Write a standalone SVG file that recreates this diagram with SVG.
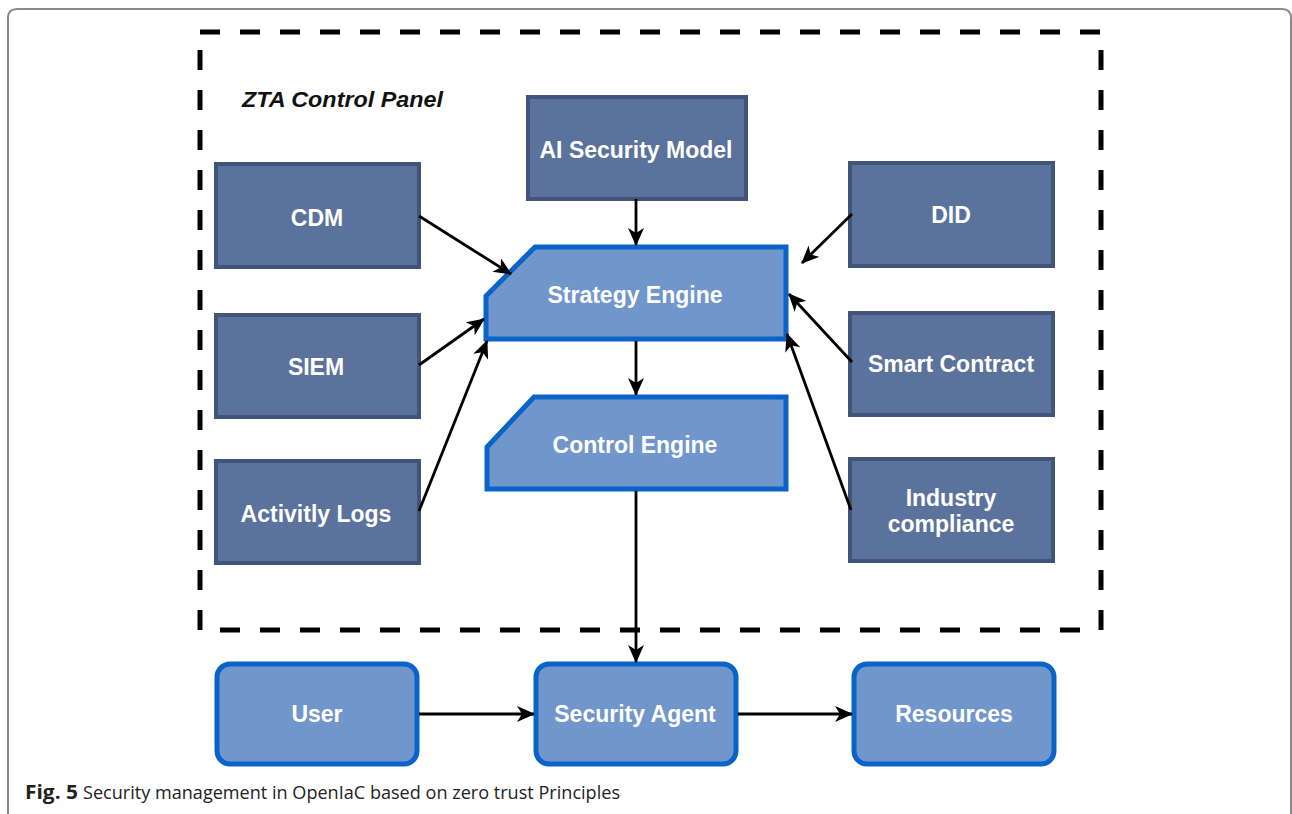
<svg xmlns="http://www.w3.org/2000/svg" width="1292" height="814" viewBox="0 0 1292 814">
<style>
.dark{fill:#5a729c;stroke:#41557b;stroke-width:4}
.light{fill:#7196cc;stroke:#0a64c8;stroke-width:5}
.lbl{font-family:"Liberation Sans",Arial,sans-serif;font-weight:bold;font-size:23px;fill:#ffffff;text-anchor:middle}
.edge{fill:none;stroke:#000;stroke-width:2.8}
.dash{fill:none;stroke:#000;stroke-width:5;stroke-dasharray:20 20}
</style>
<defs>
<marker id="arr" viewBox="0 0 18 16" refX="17" refY="8" markerWidth="18" markerHeight="16" markerUnits="userSpaceOnUse" orient="auto">
<path d="M0,0 L18,8 L0,16 L5,8 Z" fill="#000"/>
</marker>
</defs>
<rect width="1292" height="814" fill="#ffffff"/>
<path d="M8,814 V18 Q8,9 17,9 H1282 Q1291,9 1291,18 V814" fill="none" stroke="#8a8a8a" stroke-width="2"/>
<g id="panel">
<line class="dash" x1="200" y1="32" x2="1102" y2="32"/>
<line class="dash" x1="200" y1="50" x2="200" y2="632"/>
<line class="dash" x1="1101" y1="50" x2="1101" y2="632"/>
<line class="dash" x1="220" y1="630" x2="1098" y2="630"/>
<text x="242" y="107" font-family="Liberation Sans,Arial,sans-serif" font-weight="bold" font-style="italic" font-size="22" fill="#111" textLength="201" lengthAdjust="spacingAndGlyphs">ZTA Control Panel</text>
</g>
<g id="ai-security-model">
<rect class="dark" x="528" y="97" width="218" height="102"/>
<text class="lbl" x="636" y="158">AI Security Model</text>
</g>
<g id="cdm">
<rect class="dark" x="216" y="164" width="203" height="103"/>
<text class="lbl" x="317" y="226">CDM</text>
</g>
<g id="siem">
<rect class="dark" x="216" y="315" width="203" height="102"/>
<text class="lbl" x="316" y="375">SIEM</text>
</g>
<g id="activity-logs">
<rect class="dark" x="216" y="461" width="203" height="102"/>
<text class="lbl" x="316" y="522">Activitly Logs</text>
</g>
<g id="did">
<rect class="dark" x="850" y="163" width="203" height="103"/>
<text class="lbl" x="951" y="223">DID</text>
</g>
<g id="smart-contract">
<rect class="dark" x="850" y="313" width="203" height="102"/>
<text class="lbl" x="951" y="372">Smart Contract</text>
</g>
<g id="industry-compliance">
<rect class="dark" x="850" y="459" width="203" height="102"/>
<text class="lbl" x="951" y="506">Industry</text>
<text class="lbl" x="951" y="532">compliance</text>
</g>
<g id="strategy-engine">
<path class="light" d="M535,247 H786 V339 H486 V296 Z"/>
<text class="lbl" x="635" y="303">Strategy Engine</text>
</g>
<g id="control-engine">
<path class="light" d="M534,397 H786 V489 H487 V447 Z"/>
<text class="lbl" x="635" y="453">Control Engine</text>
</g>
<g id="user">
<rect class="light" x="217" y="664" width="200" height="100" rx="13"/>
<text class="lbl" x="317" y="722">User</text>
</g>
<g id="security-agent">
<rect class="light" x="536" y="664" width="200" height="100" rx="13"/>
<text class="lbl" x="635" y="722">Security Agent</text>
</g>
<g id="resources">
<rect class="light" x="854" y="664" width="200" height="100" rx="13"/>
<text class="lbl" x="954" y="722">Resources</text>
</g>
<g id="connectors">
<line class="edge" x1="636" y1="199" x2="636" y2="245" marker-end="url(#arr)"/>
<line class="edge" x1="419" y1="216" x2="511" y2="274" marker-end="url(#arr)"/>
<line class="edge" x1="419" y1="365" x2="484" y2="319" marker-end="url(#arr)"/>
<line class="edge" x1="419" y1="511" x2="487" y2="341" marker-end="url(#arr)"/>
<line class="edge" x1="852" y1="214" x2="802" y2="263" marker-end="url(#arr)"/>
<line class="edge" x1="852" y1="362" x2="789" y2="294" marker-end="url(#arr)"/>
<line class="edge" x1="851" y1="510" x2="787" y2="334" marker-end="url(#arr)"/>
<line class="edge" x1="636" y1="341" x2="636" y2="395" marker-end="url(#arr)"/>
<line class="edge" x1="636" y1="491" x2="636" y2="662" marker-end="url(#arr)"/>
<line class="edge" x1="419" y1="714" x2="534" y2="714" marker-end="url(#arr)"/>
<line class="edge" x1="738" y1="714" x2="852" y2="714" marker-end="url(#arr)"/>
</g>
<g id="caption" font-family="Open Sans,Noto Sans,sans-serif" font-size="19" fill="#222">
<text x="25" y="799" font-weight="bold" textLength="53" lengthAdjust="spacingAndGlyphs">Fig. 5</text>
<text x="83" y="799" textLength="537" lengthAdjust="spacingAndGlyphs">Security management in OpenIaC based on zero trust Principles</text>
</g>
</svg>
